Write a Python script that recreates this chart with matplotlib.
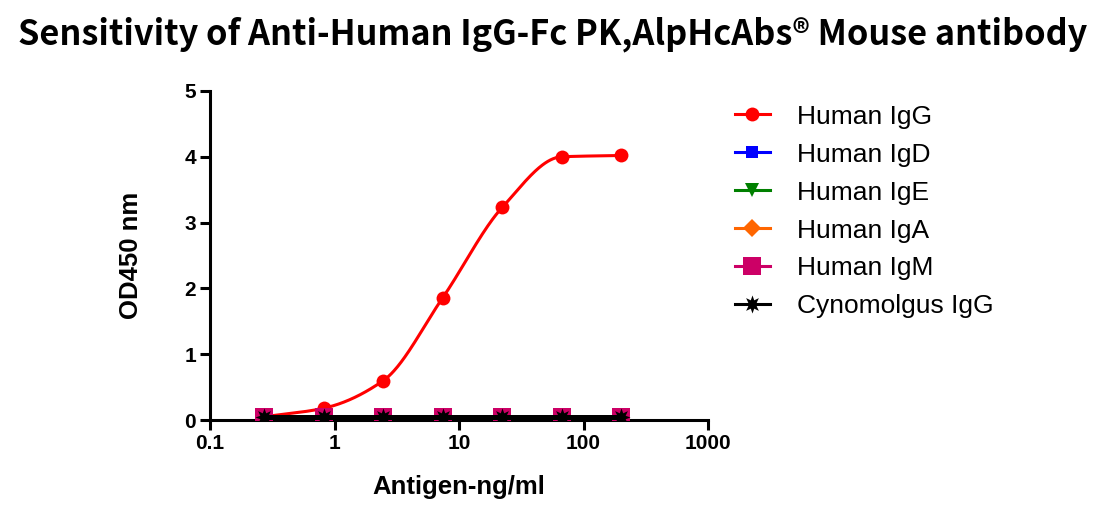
import numpy as np
import matplotlib
matplotlib.use("Agg")
import matplotlib.pyplot as plt

conc = [200, 66.67, 22.22, 7.41, 2.47, 0.823, 0.274]
human_igg = [4.02, 4.00, 3.23, 1.86, 0.60, 0.18, 0.05]
human_igd = [0.04, 0.04, 0.04, 0.04, 0.04, 0.04, 0.04]
human_ige = [0.04, 0.04, 0.04, 0.04, 0.04, 0.04, 0.04]
human_iga = [0.04, 0.04, 0.04, 0.04, 0.04, 0.04, 0.04]
human_igm = [0.04, 0.04, 0.04, 0.04, 0.04, 0.04, 0.04]
cyno_igg = [0.04, 0.04, 0.04, 0.04, 0.04, 0.04, 0.04]

labels = ["Human IgG", "Human IgD", "Human IgE", "Human IgA", "Human IgM", "Cynomolgus IgG"]
colors = ["#ff0000", "#0000ff", "#008000", "#ff6600", "#cc0066", "#000000"]
x_ticks = [0.1, 1, 10, 100, 1000]
x_ticklabels = ["0.1", "1", "10", "100", "1000"]
y_ticks = [0, 1, 2, 3, 4, 5]


def pchip(x, y, xn):
    """Monotone cubic interpolation through the data points."""
    x = np.asarray(x, float); y = np.asarray(y, float)
    h = np.diff(x); d = np.diff(y) / h
    n = len(x); m = np.zeros(n)
    for k in range(1, n - 1):
        if d[k - 1] * d[k] > 0:
            w1 = 2 * h[k] + h[k - 1]; w2 = h[k] + 2 * h[k - 1]
            m[k] = (w1 + w2) / (w1 / d[k - 1] + w2 / d[k])
    m[0] = d[0]; m[-1] = d[-1]
    idx = np.clip(np.searchsorted(x, xn) - 1, 0, n - 2)
    t = (xn - x[idx]) / h[idx]
    h00 = 2 * t**3 - 3 * t**2 + 1; h10 = t**3 - 2 * t**2 + t
    h01 = -2 * t**3 + 3 * t**2; h11 = t**3 - t**2
    return h00 * y[idx] + h10 * h[idx] * m[idx] + h01 * y[idx + 1] + h11 * h[idx] * m[idx + 1]


fig = plt.figure(figsize=(11.06, 5.27), dpi=100)
ax = fig.add_axes([210 / 1106, 1 - 420 / 527, 498 / 1106, 329 / 527])

series = [human_igg, human_igd, human_ige, human_iga, human_igm, cyno_igg]
markers = ["o", "s", "v", "D", "s", (8, 1, 0)]
msizes = [10, 9, 10, 9, 13, 13]
lws = [2.2, 2.2, 2.2, 2.2, 2.2, 3.6]

order = np.argsort(conc)
lx = np.log10(np.asarray(conc, float))[order]
xs_log = np.linspace(lx[0], lx[-1], 400)
handles = []
for i, (vals, lab, col, mk, ms, lw) in enumerate(zip(series, labels, colors, markers, msizes, lws)):
    if i == 0:
        ys = pchip(lx, np.asarray(vals, float)[order], xs_log)
        ax.plot(10 ** xs_log, ys, color=col, lw=lw, zorder=3)
    else:
        ax.plot(conc, vals, color=col, lw=lw, zorder=3 + i)
    ax.plot(conc, vals, linestyle="none", marker=mk, color=col, ms=ms, zorder=3 + i,
            markeredgewidth=0)
    h, = ax.plot([], [], color=col, lw=2.2, marker=mk, ms=ms, markeredgewidth=0, label=lab)
    handles.append(h)

ax.set_xscale("log")
ax.set_xlim(0.1, 1000)
ax.set_ylim(0, 5)
ax.set_xticks(x_ticks)
ax.set_xticklabels(x_ticklabels)
ax.xaxis.set_minor_locator(matplotlib.ticker.NullLocator())
ax.set_yticks(y_ticks)
for s in ["top", "right"]:
    ax.spines[s].set_visible(False)
for s in ["left", "bottom"]:
    ax.spines[s].set_linewidth(2.2)
ax.tick_params(width=2.2, length=7, labelsize=15, pad=3)
for t in ax.get_xticklabels() + ax.get_yticklabels():
    t.set_fontweight("bold")
    t.set_family("Liberation Sans")

ax.set_xlabel("Antigen-ng/ml", fontsize=18.5, fontweight="bold", family="Liberation Sans", labelpad=16)
ax.set_ylabel("OD450 nm", fontsize=18.5, fontweight="bold", family="Liberation Sans", labelpad=30)

leg = fig.legend(handles=handles, loc="upper left", bbox_to_anchor=(724 / 1106, 1 - 94 / 527),
                 frameon=False, prop={"family": "Liberation Sans", "size": 19},
                 handlelength=1.35, labelspacing=0.53, handletextpad=1.0, borderaxespad=0)

fig.suptitle("Sensitivity of Anti-Human IgG-Fc PK,AlpHcAbs® Mouse antibody", x=0.5, y=0.968,
             fontsize=24.7, fontweight="bold", family="Noto Sans CJK SC")

fig.savefig("out.png", dpi=100)
